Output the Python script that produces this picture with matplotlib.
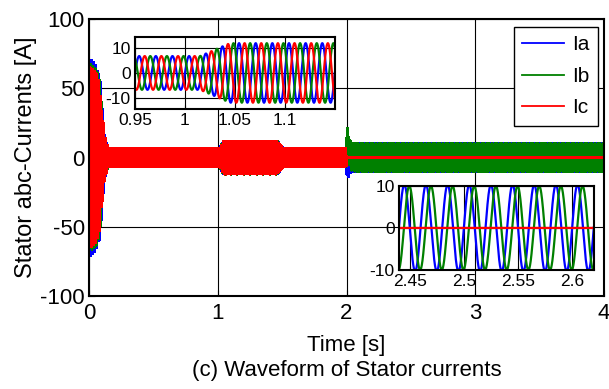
import numpy as np
import matplotlib.pyplot as plt

plt.rcParams['font.family'] = ['Liberation Sans', 'DejaVu Sans']
plt.rcParams['axes.unicode_minus'] = False

# peak of the phase currents before the 2 s event
env_t = [0.0, 0.01, 0.06, 0.085, 0.10, 0.12, 0.15, 1.015, 1.045, 1.46, 1.51, 2.0]
env_amp = [55, 68, 63, 55, 38, 16, 6.8, 6.8, 12, 12, 6.8, 6.8]
start_scale = [1.05, 1.0, 0.96]     # Ia, Ib, Ic during the start-up burst
phase_before = [0, 120, -120]       # deg, peak order blue -> red -> green
f_before = 60.0

# after 2 s: Ic drops to zero, Ia and Ib keep going at 50 Hz
t_step = 2.0
f_after = 50.0
amp_after = [10.3, 10.0, 0.0]
phase_after = [0, -83, 0]
kick = [-12, 24, 0]                 # offset right after the step
kick_tau = 0.012

names = ['Ia', 'Ib', 'Ic']
colors = ['#0000ff', '#008000', '#ff0000']

t = np.linspace(0, 4, 80001)
env = np.interp(t, env_t, env_amp)
pre = t < t_step
currents = []
for k in range(3):
    i = np.zeros_like(t)
    sc = np.where(t < 0.12, start_scale[k], 1.0)
    i[pre] = (sc * env)[pre] * np.sin(2 * np.pi * f_before * t[pre] + np.radians(phase_before[k]))
    ta = t[~pre] - t_step
    i[~pre] = amp_after[k] * np.sin(2 * np.pi * f_after * ta + np.radians(phase_after[k])) \
        + kick[k] * np.exp(-ta / kick_tau)
    currents.append(i)

fig = plt.figure(figsize=(6.09, 3.89), dpi=100)
ax = fig.add_axes([0.146, 0.239, 0.846, 0.712])
for k in range(3):
    ax.plot(t, currents[k], color=colors[k], lw=1.3, label=names[k], antialiased=False)
ax.set_xlim(0, 4)
ax.set_ylim(-100, 100)
ax.set_xticks([0, 1, 2, 3, 4])
ax.set_yticks([-100, -50, 0, 50, 100])
ax.grid(True, color='black', lw=0.8, ls='-')
ax.tick_params(direction='in', length=4, labelsize=16, pad=5)
ax.tick_params(axis='y', pad=3)
for s in ax.spines.values():
    s.set_linewidth(1.5)
ax.set_ylabel('Stator abc-Currents [A]', fontsize=17, labelpad=2)
ax.set_xlabel('Time [s]', fontsize=16, labelpad=8)
leg = ax.legend(loc='upper right', bbox_to_anchor=(0.988, 0.971), borderaxespad=0,
                fontsize=15, frameon=True, fancybox=False, edgecolor='black',
                framealpha=1, handlelength=2.0, handletextpad=0.4,
                labelspacing=0.6, borderpad=0.4)
leg.get_frame().set_linewidth(1.0)
for h in leg.get_lines():
    h.set_antialiased(True)
fig.text(0.569, 0.047, '(c) Waveform of Stator currents', fontsize=16, ha='center', va='center')

# zoom around the 1 s load change
ax1 = fig.add_axes([0.2217, 0.72, 0.328, 0.185])
for k in range(3):
    ax1.plot(t, currents[k], color=colors[k], lw=1.6)
ax1.set_xlim(0.95, 1.15)
ax1.set_ylim(-14.5, 14.5)
ax1.set_xticks([0.95, 1, 1.05, 1.1])
ax1.set_xticklabels(['0.95', '1', '1.05', '1.1'])
ax1.set_yticks([-10, 0, 10])
ax1.grid(True, color='black', lw=0.8, ls='-')
ax1.tick_params(direction='in', length=3, labelsize=12.5, pad=3)
for s in ax1.spines.values():
    s.set_linewidth(1.5)

# zoom after the 2 s event
ax2 = fig.add_axes([0.655, 0.306, 0.320, 0.216], facecolor='none')
for k in range(3):
    ax2.plot(t, currents[k], color=colors[k], lw=1.6)
ax2.set_xlim(2.44, 2.62)
ax2.set_ylim(-10, 10)
ax2.set_xticks([2.45, 2.5, 2.55, 2.6])
ax2.set_xticklabels(['2.45', '2.5', '2.55', '2.6'])
ax2.set_yticks([-10, 0, 10])
ax2.grid(True, color='black', lw=0.8, ls='-')
ax2.tick_params(direction='in', length=3, labelsize=12.5, pad=3)
for s in ax2.spines.values():
    s.set_linewidth(1.5)

fig.savefig('out.png', dpi=100)
